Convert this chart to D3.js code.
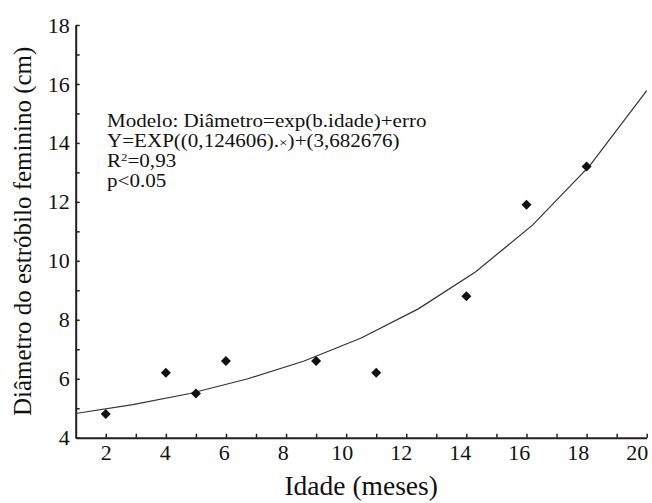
<!DOCTYPE html>
<html>
<head>
<meta charset="utf-8">
<script src="https://cdn.jsdelivr.net/npm/d3@7"></script>
</head>
<body style="margin:0; background:#fff">
<div id="chart"></div>
<script>
// observed points (age in months, diameter in cm)
const ages = [2, 4, 5, 6, 9, 11, 14, 16, 18];
const diameters = [4.8, 6.2, 5.5, 6.6, 6.6, 6.2, 8.8, 11.9, 13.2];

// fitted curve
const fitAges = [1, 2.9, 4.8, 6.7, 8.6, 10.5, 12.4, 14.3, 16.2, 18.1, 20];
const fitDiameters = [4.82, 5.12, 5.5, 5.99, 6.6, 7.38, 8.37, 9.62, 11.21, 13.22, 15.77];

const xTicks = d3.range(2, 21);
const yTicks = d3.range(4, 19);

const annotation = [
  "Modelo:  Diâmetro=exp(b.idade)+erro",
  "Y=EXP((0,124606).×)+(3,682676)",
  "R²=0,93",
  "p<0.05",
];

const width = 652;
const height = 503;
const serif = "Liberation Serif";

const svg = d3
  .select("#chart")
  .append("svg")
  .attr("width", width)
  .attr("height", height);

const x = d3.scaleLinear().domain([1, 20]).range([75.7, 646.7]);
const y = d3.scaleLinear().domain([4, 18]).range([437.7, 25]);

// x axis
const xAxis = svg
  .append("g")
  .attr("transform", `translate(0,${y(4)})`)
  .call(
    d3
      .axisBottom(x)
      .tickValues(xTicks)
      .tickSize(-4)
      .tickSizeOuter(0)
      .tickPadding(7)
      .tickFormat((d) => (d % 2 === 0 ? d : ""))
  );
xAxis.attr("font-family", serif);
xAxis.select(".domain").attr("stroke", "#231f20").attr("stroke-width", 2);
xAxis.selectAll(".tick line").attr("stroke", "#231f20").attr("stroke-width", 1.5);
xAxis
  .selectAll(".tick text")
  .style("font-family", serif)
  .attr("font-size", 22)
  .attr("fill", "#111")
  .attr("dx", (d) => -(d - 2) * 0.55);

// y axis
const yAxis = svg
  .append("g")
  .attr("transform", `translate(${x(1)},0)`)
  .call(
    d3
      .axisLeft(y)
      .tickValues(yTicks)
      .tickSize(-4)
      .tickSizeOuter(0)
      .tickPadding(6)
      .tickFormat((d) => (d % 2 === 0 ? d : ""))
  );
yAxis.attr("font-family", serif);
yAxis.select(".domain").attr("stroke", "#231f20").attr("stroke-width", 2);
yAxis.selectAll(".tick line").attr("stroke", "#231f20").attr("stroke-width", 1.5);
yAxis
  .selectAll(".tick text")
  .style("font-family", serif)
  .attr("font-size", 22)
  .attr("fill", "#111");

// fitted curve
const line = d3
  .line()
  .x((d, i) => x(fitAges[i]))
  .y((d) => y(d));

svg
  .append("path")
  .datum(fitDiameters)
  .attr("fill", "none")
  .attr("stroke", "#333")
  .attr("stroke-width", 1.2)
  .attr("d", line);

// points
const diamond = d3.symbol(d3.symbolSquare, 50);
svg
  .selectAll(".pt")
  .data(ages)
  .join("path")
  .attr("class", "pt")
  .attr("d", diamond)
  .attr("fill", "#111")
  .attr("transform", (d, i) => `translate(${x(d)},${y(diameters[i])}) rotate(45)`);

// annotation text, one text per line (the original type is a bit wide)
const note = svg.append("g").attr("transform", "translate(107,127) scale(1.17,1)");
annotation.forEach((t, i) => {
  const row = note
    .append("text")
    .attr("x", 0)
    .attr("y", i * 20)
    .attr("font-size", 18)
    .attr("fill", "#111")
    .style("font-family", serif);
  if (t.startsWith("R²")) {
    row.append("tspan").text("R");
    row.append("tspan").attr("font-size", 11).attr("dy", -6).text("2");
    row.append("tspan").attr("dy", 6).text(t.slice(2));
  } else if (t.includes("×")) {
    const parts = t.split("×");
    row.append("tspan").text(parts[0]);
    row.append("tspan").attr("font-size", 13).text("×");
    row.append("tspan").text(parts[1]);
  } else {
    row.text(t);
  }
});

// axis titles
svg
  .append("text")
  .attr("x", (x(1) + x(20)) / 2)
  .attr("y", 495)
  .attr("text-anchor", "middle")
  .attr("font-size", 27.5)
  .attr("fill", "#111")
  .style("font-family", serif)
  .text("Idade (meses)");

svg
  .append("text")
  .attr("transform", `translate(31,${(y(4) + y(18)) / 2}) rotate(-90)`)
  .attr("text-anchor", "middle")
  .attr("font-size", 25)
  .attr("fill", "#111")
  .style("font-family", serif)
  .text("Diâmetro do estróbilo feminino (cm)");
</script>
</body>
</html>
